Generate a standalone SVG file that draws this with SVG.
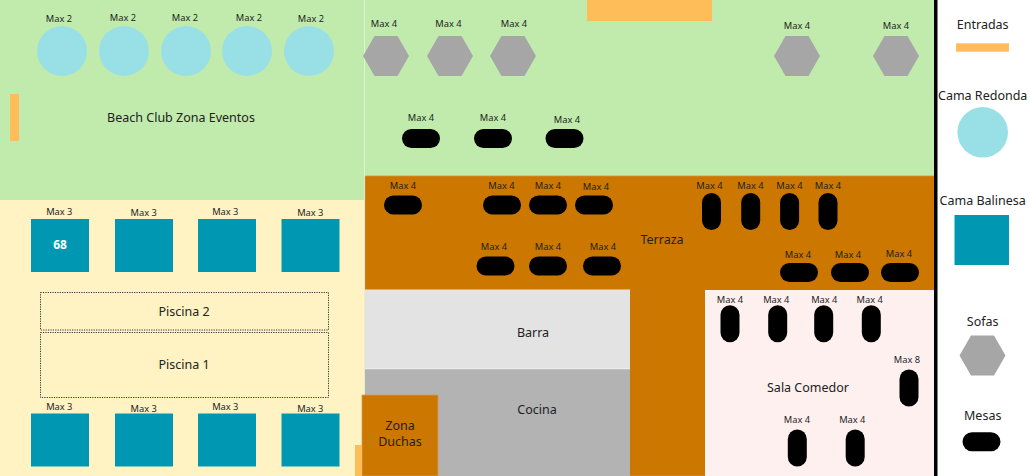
<svg xmlns="http://www.w3.org/2000/svg" xmlns:xlink="http://www.w3.org/1999/xlink" width="1030" height="476" viewBox="0 0 1030 476">
<style>
text{font-family:"Noto Sans","Open Sans","DejaVu Sans",sans-serif;fill:#222;text-anchor:middle}
.lab{font-size:9.3px;fill:#1e1e1e}
.zone{font-size:12.5px}
.leg{font-size:12.5px}
.num{font-size:12px;font-weight:bold;fill:#fff}
.pill{fill:#000}
.hex{fill:#a6a6a6}
.cama{fill:#99e0e6}
.bali{fill:#0097b2}
.ent{fill:#ffbd59}
.pool{fill:none;stroke:#333;stroke-width:1;stroke-dasharray:1.2 1.2}
</style>
<defs>
<rect id="hp" x="-19" y="-9.5" width="38" height="19" rx="9.5"/>
<rect id="vp" x="-9.5" y="-18.5" width="19" height="37" rx="9.5"/>
<polygon id="hx" points="-23,0 -11.5,-20 11.5,-20 23,0 11.5,20 -11.5,20"/>
</defs>

<g id="zones">
<rect id="zona-eventos" x="0" y="0" width="365" height="200" fill="#c1ebad"/>
<rect id="zona-verde" x="365" y="0" width="570" height="177" fill="#c1ebad"/>
<rect id="zona-piscina" x="0" y="200" width="365" height="276" fill="#fff3c4"/>
<rect id="terraza" x="365" y="176" width="570" height="300" fill="#cc7800" stroke="#d99040" stroke-width="0.8"/>
<rect id="barra" x="365" y="289.5" width="265" height="80" fill="#e3e3e3"/>
<rect id="cocina" x="365" y="369" width="265" height="107" fill="#b3b3b3"/>
<line x1="365" y1="368.8" x2="630" y2="368.8" stroke="#f0f0f0" stroke-width="0.8"/>
<rect id="sala-comedor" x="705" y="290" width="229" height="186" fill="#fff0f0"/>
<line x1="364.5" y1="0" x2="364.5" y2="476" stroke="#eef7e6" stroke-width="1" opacity="0.7"/>
<rect id="zona-duchas" x="362" y="395" width="76" height="81" fill="#cc7800" stroke="#d99a50" stroke-width="0.8"/>
<text class="zone" x="181" y="122">Beach Club Zona Eventos</text>
<text class="zone" x="662" y="244">Terraza</text>
<text class="zone" x="533" y="337">Barra</text>
<text class="zone" x="537" y="414">Cocina</text>
<text class="zone" x="400" y="430">Zona</text>
<text class="zone" x="400" y="446">Duchas</text>
<text class="zone" x="808" y="392">Sala Comedor</text>
</g>

<g id="entradas">
<rect class="ent" x="587" y="0" width="125" height="21"/>
<rect class="ent" x="10" y="94" width="9" height="47"/>
<rect class="ent" x="355" y="445" width="7" height="31"/>
</g>

<g id="piscinas">
<rect class="pool" x="40.5" y="292.5" width="288" height="37.5"/>
<rect class="pool" x="40.5" y="332.5" width="288" height="65"/>
<text class="zone" x="184" y="316">Piscina 2</text>
<text class="zone" x="184" y="369">Piscina 1</text>
</g>

<g id="camas-redondas">
<g id="cr1"><circle class="cama" cx="62" cy="51" r="25"/><text class="lab" x="59" y="21.5">Max 2</text></g>
<g id="cr2"><circle class="cama" cx="124" cy="51" r="25"/><text class="lab" x="123" y="21">Max 2</text></g>
<g id="cr3"><circle class="cama" cx="186" cy="51" r="25"/><text class="lab" x="185" y="21">Max 2</text></g>
<g id="cr4"><circle class="cama" cx="247" cy="51" r="25"/><text class="lab" x="249" y="21">Max 2</text></g>
<g id="cr5"><circle class="cama" cx="309" cy="51" r="25"/><text class="lab" x="311" y="22">Max 2</text></g>
</g>

<g id="sofas">
<g id="s1"><use href="#hx" class="hex" x="386" y="56"/><text class="lab" x="384" y="27">Max 4</text></g>
<g id="s2"><use href="#hx" class="hex" x="450" y="56"/><text class="lab" x="448.5" y="27">Max 4</text></g>
<g id="s3"><use href="#hx" class="hex" x="513" y="56"/><text class="lab" x="514" y="27">Max 4</text></g>
<g id="s4"><use href="#hx" class="hex" x="797" y="56"/><text class="lab" x="797" y="29">Max 4</text></g>
<g id="s5"><use href="#hx" class="hex" x="896" y="56"/><text class="lab" x="896" y="29">Max 4</text></g>
</g>

<g id="mesas-jardin">
<g id="mj1"><use href="#hp" class="pill" x="421" y="138.5"/><text class="lab" x="421" y="121">Max 4</text></g>
<g id="mj2"><use href="#hp" class="pill" x="493" y="138.5"/><text class="lab" x="493" y="121">Max 4</text></g>
<g id="mj3"><use href="#hp" class="pill" x="564.5" y="138.5"/><text class="lab" x="567" y="123">Max 4</text></g>
</g>

<g id="mesas-terraza">
<g id="mt1"><use href="#hp" class="pill" x="403" y="205"/><text class="lab" x="403" y="189">Max 4</text></g>
<g id="mt2"><use href="#hp" class="pill" x="502" y="205"/><text class="lab" x="501.5" y="189">Max 4</text></g>
<g id="mt3"><use href="#hp" class="pill" x="548" y="205"/><text class="lab" x="548" y="189">Max 4</text></g>
<g id="mt4"><use href="#hp" class="pill" x="594" y="205"/><text class="lab" x="596" y="190">Max 4</text></g>
<g id="mt5"><use href="#hp" class="pill" x="495.5" y="266"/><text class="lab" x="494" y="250">Max 4</text></g>
<g id="mt6"><use href="#hp" class="pill" x="548" y="266"/><text class="lab" x="548" y="250">Max 4</text></g>
<g id="mt7"><use href="#hp" class="pill" x="602" y="266"/><text class="lab" x="603" y="250">Max 4</text></g>
<g id="mt8"><use href="#vp" class="pill" x="711.5" y="211.5"/><text class="lab" x="709.5" y="189">Max 4</text></g>
<g id="mt9"><use href="#vp" class="pill" x="750.7" y="211.5"/><text class="lab" x="750.5" y="189">Max 4</text></g>
<g id="mt10"><use href="#vp" class="pill" x="789.6" y="211.5"/><text class="lab" x="789.5" y="189">Max 4</text></g>
<g id="mt11"><use href="#vp" class="pill" x="828" y="211.5"/><text class="lab" x="828" y="189">Max 4</text></g>
<g id="mt12"><use href="#hp" class="pill" x="799" y="272.5"/><text class="lab" x="798" y="258">Max 4</text></g>
<g id="mt13"><use href="#hp" class="pill" x="850" y="272.5"/><text class="lab" x="848" y="258">Max 4</text></g>
<g id="mt14"><use href="#hp" class="pill" x="900" y="272.5"/><text class="lab" x="899" y="257">Max 4</text></g>
</g>

<g id="mesas-comedor">
<g id="mc1"><use href="#vp" class="pill" x="730" y="323.7"/><text class="lab" x="730" y="303">Max 4</text></g>
<g id="mc2"><use href="#vp" class="pill" x="777.7" y="323.7"/><text class="lab" x="776.3" y="303">Max 4</text></g>
<g id="mc3"><use href="#vp" class="pill" x="823.7" y="323.7"/><text class="lab" x="824.3" y="303">Max 4</text></g>
<g id="mc4"><use href="#vp" class="pill" x="871.3" y="323.7"/><text class="lab" x="869.7" y="303">Max 4</text></g>
<g id="mc5"><use href="#vp" class="pill" x="909" y="388"/><text class="lab" x="907" y="363">Max 8</text></g>
<g id="mc6"><use href="#vp" class="pill" x="797.3" y="448"/><text class="lab" x="797" y="423">Max 4</text></g>
<g id="mc7"><use href="#vp" class="pill" x="855.2" y="448"/><text class="lab" x="852.3" y="423">Max 4</text></g>
</g>

<g id="camas-balinesas">
<g id="cb1"><rect class="bali" x="31" y="219" width="58" height="53"/><text class="lab" x="59.3" y="215">Max 3</text><text class="num" x="60" y="248.5">68</text></g>
<g id="cb2"><rect class="bali" x="115" y="219" width="58" height="53"/><text class="lab" x="143.7" y="216">Max 3</text></g>
<g id="cb3"><rect class="bali" x="198" y="219" width="58" height="53"/><text class="lab" x="225.3" y="215">Max 3</text></g>
<g id="cb4"><rect class="bali" x="281.5" y="219" width="58" height="53"/><text class="lab" x="310.3" y="216">Max 3</text></g>
<g id="cb5"><rect class="bali" x="31" y="413.5" width="58" height="53"/><text class="lab" x="59.3" y="410">Max 3</text></g>
<g id="cb6"><rect class="bali" x="115" y="413.5" width="58" height="53"/><text class="lab" x="143.7" y="411.5">Max 3</text></g>
<g id="cb7"><rect class="bali" x="198" y="413.5" width="58" height="53"/><text class="lab" x="225.3" y="410">Max 3</text></g>
<g id="cb8"><rect class="bali" x="281.5" y="413.5" width="58" height="53"/><text class="lab" x="310.3" y="411.5">Max 3</text></g>
</g>

<g id="connectors"></g>

<g id="leyenda">
<rect x="937.5" y="0" width="92.5" height="476" fill="#fff"/>
<rect x="934" y="0" width="3.5" height="476" fill="#000"/>
<text class="leg" x="982.7" y="28.5">Entradas</text>
<rect class="ent" x="956" y="43.3" width="53" height="8.4"/>
<text class="leg" x="982.7" y="99.5">Cama Redonda</text>
<circle class="cama" cx="982.7" cy="132.3" r="25.3"/>
<text class="leg" x="982.7" y="204.5">Cama Balinesa</text>
<rect class="bali" x="954.5" y="215" width="54.5" height="50"/>
<text class="leg" x="982.7" y="326">Sofas</text>
<use href="#hx" class="hex" x="982.5" y="355.5"/>
<text class="leg" x="982.7" y="419.5">Mesas</text>
<use href="#hp" class="pill" x="981.5" y="441.7"/>
</g>
</svg>
